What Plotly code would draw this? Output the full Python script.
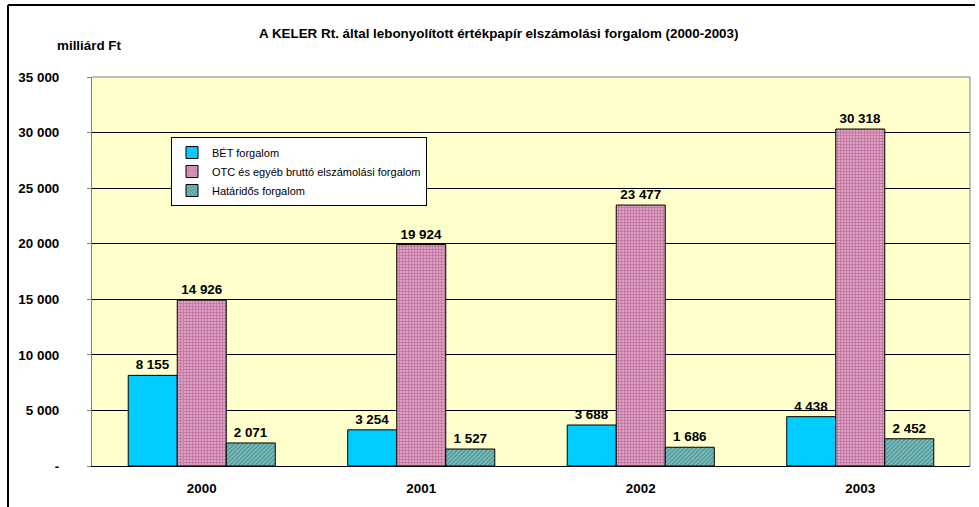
import plotly.graph_objects as go

years = ["2000", "2001", "2002", "2003"]
bet = [8155, 3254, 3688, 4438]
otc = [14926, 19924, 23477, 30318]
hat = [2071, 1527, 1686, 2452]
names = ["BÉT forgalom", "OTC és egyéb bruttó elszámolási forgalom", "Határidős forgalom"]
tick_vals = [0, 5000, 10000, 15000, 20000, 25000, 30000, 35000]
tick_text = ["-", "5 000", "10 000", "15 000", "20 000", "25 000", "30 000", "35 000"]

def fmt(v):
    return f"{v:,}".replace(",", " ")

FONT = "Liberation Sans, Arial, sans-serif"
FS = 13.4
W, H = 979, 507
L, R, T, B = 92, 9, 77, 41
pw, ph = W - L - R, H - T - B

def px(x):
    return (x - L) / pw

def py(y):
    return (H - B - y) / ph

fig = go.Figure()
fig.add_trace(go.Bar(
    x=years, y=bet, name=names[0],
    marker=dict(color="#00CCFF", line=dict(color="black", width=1)),
    text=[fmt(v) for v in bet], textposition="outside",
))
fig.add_trace(go.Bar(
    x=years, y=otc, name=names[1],
    marker=dict(color="#D090B8", line=dict(color="black", width=1),
                pattern=dict(shape="+", fgcolor="#A0306A", bgcolor="#ECC4DC", size=3, solidity=0.75)),
    text=[fmt(v) for v in otc], textposition="outside",
))
fig.add_trace(go.Bar(
    x=years, y=hat, name=names[2],
    marker=dict(color="#80C0C0", line=dict(color="black", width=1),
                pattern=dict(shape="/", fgcolor="#006666", bgcolor="#A8D4D4", size=3, solidity=0.75)),
    text=[fmt(v) for v in hat], textposition="outside",
))
fig.update_traces(textfont=dict(family=FONT, size=FS, color="black", weight="bold"),
                  cliponaxis=False)

fig.update_layout(
    width=W, height=H,
    margin=dict(l=L, r=R, t=T, b=B, autoexpand=False),
    paper_bgcolor="white", plot_bgcolor="#FFFFCC",
    barmode="group", bargap=0.33, bargroupgap=0,
    font=dict(family=FONT, size=12, color="black"),
    showlegend=True,
    legend=dict(x=px(171), y=py(137), xanchor="left", yanchor="top",
                bgcolor="white", bordercolor="black", borderwidth=1,
                font=dict(family=FONT, size=11, color="black"),
                tracegroupgap=0, itemwidth=30),
    xaxis=dict(showline=True, linecolor="black", linewidth=1, ticks="",
               automargin=False, ticklabelstandoff=10,
               tickfont=dict(family=FONT, size=FS, color="black", weight="bold"),
               showgrid=False),
    yaxis=dict(range=[0, 35000], tickvals=tick_vals, ticktext=tick_text,
               automargin=False,
               showgrid=True, gridcolor="black", gridwidth=1,
               showline=True, linecolor="#808080", linewidth=1,
               ticks="outside", ticklen=4, tickcolor="#808080",
               ticklabelstandoff=25, zeroline=False,
               tickfont=dict(family=FONT, size=FS, color="black", weight="bold")),
    annotations=[
        dict(text="A KELER Rt. által lebonyolított értékpapír elszámolási forgalom (2000-2003)",
             x=px(498), y=py(33), xref="paper", yref="paper", showarrow=False,
             xanchor="center", yanchor="middle",
             font=dict(family=FONT, size=FS, color="black", weight="bold")),
        dict(text="milliárd Ft", x=px(55), y=py(45), xref="paper", yref="paper",
             showarrow=False, xanchor="left", yanchor="middle",
             font=dict(family=FONT, size=FS, color="black", weight="bold")),
    ],
    shapes=[
        dict(type="line", xref="paper", yref="paper", x0=px(8), x1=px(8), y0=py(5), y1=py(510),
             line=dict(color="black", width=2)),
        dict(type="line", xref="paper", yref="paper", x0=px(8), x1=px(975), y0=py(5), y1=py(5),
             line=dict(color="black", width=2)),
        dict(type="line", xref="paper", yref="paper", x0=0, x1=1, y0=1, y1=1,
             line=dict(color="#808080", width=1)),
        dict(type="line", xref="paper", yref="paper", x0=1, x1=1, y0=0, y1=1,
             line=dict(color="#808080", width=1)),
    ],
)

fig.write_html("out.html", config={"displayModeBar": False},
               post_script="document.body.style.margin='0';document.body.style.overflow='hidden';")
